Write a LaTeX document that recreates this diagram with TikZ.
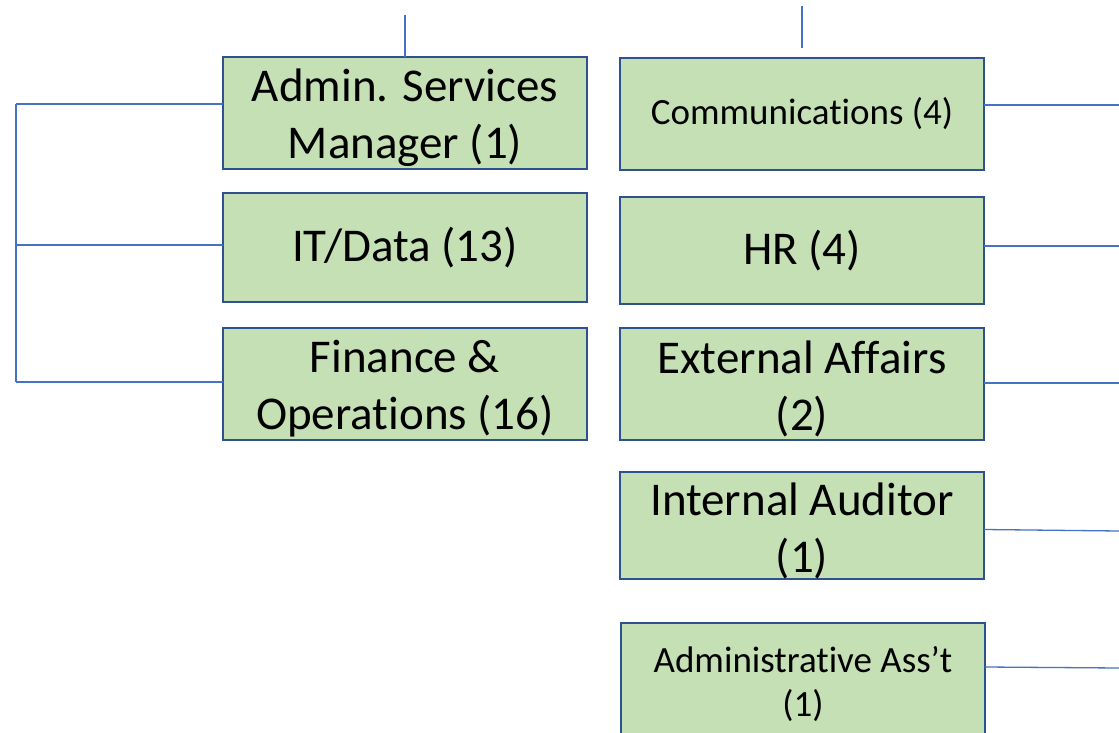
\documentclass[tikz,border=0pt]{standalone}
\usepackage{fontspec}
\setmainfont{Carlito}[Ligatures={NoCommon,NoRare,NoContextual}]
\usetikzlibrary{calc}
\newcommand{\tnoi}{t\kern0pt i}
\definecolor{boxgreen}{HTML}{C5E0B4}
\definecolor{boxblue}{HTML}{2F528F}
\definecolor{linkblue}{HTML}{4472C4}
\tikzset{
  unit box/.style={rectangle, draw=boxblue, fill=boxgreen, line width=2.6pt,
    minimum width=364pt, inner sep=0pt, outer sep=0pt, anchor=north west},
  big text/.style={align=center, inner sep=0pt, font=\fontsize{47}{57}\selectfont},
  small text/.style={align=center, inner sep=0pt, font=\fontsize{37}{44}\selectfont},
  conn/.style={draw=linkblue, line width=1.3pt}
}
\begin{document}
\begin{tikzpicture}[x=1pt, y=-1pt]
  \clip (0,0) rectangle (1119,733);
  \fill[white] (0,0) rectangle (1119,733);

  % left column boxes
  \node[unit box, minimum height=112pt] (adm) at (223,57) {};
  \node[unit box, minimum height=109pt] (itd) at (223,193) {};
  \node[unit box, minimum height=112pt] (fin) at (223,328) {};
  % right column boxes
  \node[unit box, minimum height=112pt] (com) at (620,58) {};
  \node[unit box, minimum height=107pt] (hr)  at (620,197) {};
  \node[unit box, minimum height=112pt] (ea)  at (620,328) {};
  \node[unit box, minimum height=107pt] (ia)  at (620,472) {};
  \node[unit box, minimum height=140pt] (aa)  at (621,623) {};

  % texts
  \node[big text] (admt) at ($(adm.center)+(0,5)$) {Admin. Services\\Manager (1)};
  \node[big text] (itdt) at (itd.center) {IT/Data (13)};
  \node[big text] (fint) at ($(fin.center)+(0,5)$) {Finance \&\\Opera\tnoi ons (16)};
  \node[small text] (comt) at (com.center) {Communica\tnoi ons (4)};
  \node[big text] (hrt) at (hr.center) {HR (4)};
  \node[big text] (eat) at ($(ea.center)+(0,5)$) {External Affairs\\(2)};
  \node[big text] (iat) at ($(ia.center)+(0,5)$) {Internal Auditor\\(1)};
  \node[small text] (aat) at ($(aa.north)+(0,61)$) {Administra\tnoi ve Ass’t\\(1)};

  % top stubs
  \path (adm.north) ++(0,-42) coordinate (t1);
  \draw[conn] (t1) -- (adm.north);
  \coordinate (t2a) at (802,6);
  \coordinate (t2b) at (802,48);
  \draw[conn] (t2a) -- (t2b);

  % left bracket
  \coordinate (b1) at (16,104);
  \coordinate (b2) at (16,245);
  \coordinate (b3) at (16,382);
  \draw[conn] (b1) -- (b3);
  \draw[conn] (b1) -- (adm.west |- b1);
  \draw[conn] (b2) -- (itd.west |- b2);
  \draw[conn] (b3) -- (fin.west |- b3);

  % right stubs
  \coordinate (r1) at (1119,105);
  \coordinate (r2) at (1119,246);
  \coordinate (r3) at (1119,383);
  \coordinate (r4) at (1119,531);
  \coordinate (r5) at (1119,668);
  \draw[conn] (com.east |- r1) -- (r1);
  \draw[conn] (hr.east |- r2) -- (r2);
  \draw[conn] (ea.east |- r3) -- (r3);
  \draw[conn] ($(ia.east)+(0,4)$) -- (r4);
  \draw[conn] ($(aa.north east)+(0,44)$) -- (r5);
\end{tikzpicture}
\end{document}
